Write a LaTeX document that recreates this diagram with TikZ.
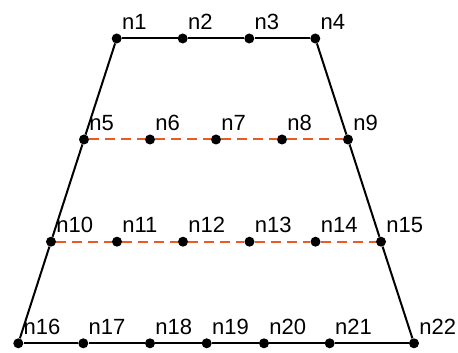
\documentclass[tikz,border=0pt]{standalone}
\usepackage{fontspec}
\setmainfont{Liberation Sans}
\usetikzlibrary{positioning}
\definecolor{cutorange}{RGB}{238, 88, 36}

\begin{document}
\begin{tikzpicture}[
  x=1pt, y=1pt,
  knot/.style={
    circle, fill=black, inner sep=0pt,
    minimum size=10pt
  },
  lbl/.style={
    anchor=base west, inner sep=0pt,
    font=\fontsize{22}{22}\selectfont,
    xshift=0pt, yshift=9pt
  },
  sideline/.style={line width=2pt, color=black},
  cutline/.style={line width=2pt, color=cutorange, dash pattern=on 10pt off 6pt}
]
  \useasboundingbox (0,0) rectangle (458,353);

  \node[knot, label={[lbl]right:n1}] (n1) at (116.7,314.5) {};
  \node[knot, label={[lbl]right:n2}] (n2) at (182.7,314.5) {};
  \node[knot, label={[lbl]right:n3}] (n3) at (249.3,314.5) {};
  \node[knot, label={[lbl]right:n4}] (n4) at (315.3,314.5) {};

  \node[knot, label={[lbl]right:n5}] (n5) at (84,213.5) {};
  \node[knot, label={[lbl]right:n6}] (n6) at (150,213.5) {};
  \node[knot, label={[lbl]right:n7}] (n7) at (216,213.5) {};
  \node[knot, label={[lbl]right:n8}] (n8) at (282,213.5) {};
  \node[knot, label={[lbl]right:n9}] (n9) at (348,213.5) {};

  \node[knot, label={[lbl]right:n10}] (n10) at (51,111.3) {};
  \node[knot, label={[lbl]right:n11}] (n11) at (117,111.3) {};
  \node[knot, label={[lbl]right:n12}] (n12) at (183,111.3) {};
  \node[knot, label={[lbl]right:n13}] (n13) at (249.5,111.3) {};
  \node[knot, label={[lbl]right:n14}] (n14) at (315.5,111.3) {};
  \node[knot, label={[lbl]right:n15}] (n15) at (381,111.3) {};

  \node[knot, label={[lbl]right:n16}] (n16) at (18.3,9.7) {};
  \node[knot, label={[lbl]right:n17}] (n17) at (83.3,9.7) {};
  \node[knot, label={[lbl]right:n18}] (n18) at (150,9.7) {};
  \node[knot, label={[lbl]right:n19}] (n19) at (206.7,9.7) {};
  \node[knot, label={[lbl]right:n20}] (n20) at (264,9.7) {};
  \node[knot, label={[lbl]right:n21}] (n21) at (329.7,9.7) {};
  \node[knot, label={[lbl]right:n22}] (n22) at (414,9.7) {};

  \draw[sideline] (n1)--(n2);
  \draw[sideline] (n2)--(n3);
  \draw[sideline] (n3)--(n4);
  \draw[sideline] (n4)--(n9);
  \draw[sideline] (n9)--(n15);
  \draw[sideline] (n15)--(n22);
  \draw[sideline] (n22)--(n21);
  \draw[sideline] (n21)--(n20);
  \draw[sideline] (n20)--(n19);
  \draw[sideline] (n19)--(n18);
  \draw[sideline] (n18)--(n17);
  \draw[sideline] (n17)--(n16);
  \draw[sideline] (n16)--(n10);
  \draw[sideline] (n10)--(n5);
  \draw[sideline] (n5)--(n1);

  \draw[cutline] (n5)--(n6);
  \draw[cutline] (n6)--(n7);
  \draw[cutline] (n7)--(n8);
  \draw[cutline] (n8)--(n9);

  \draw[cutline] (n10)--(n11);
  \draw[cutline] (n11)--(n12);
  \draw[cutline] (n12)--(n13);
  \draw[cutline] (n13)--(n14);
  \draw[cutline] (n14)--(n15);
\end{tikzpicture}
\end{document}
